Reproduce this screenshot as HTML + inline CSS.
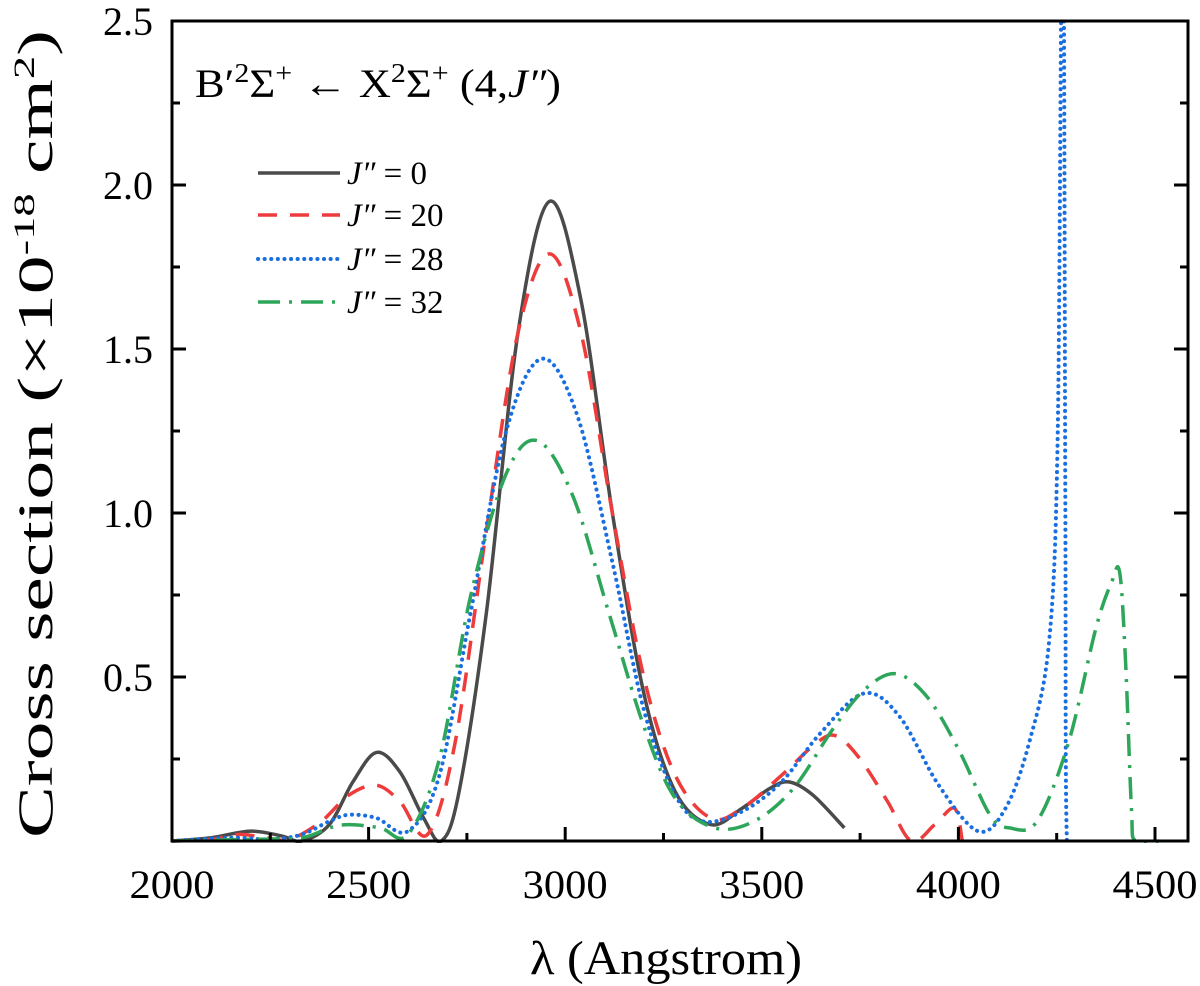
<!DOCTYPE html>
<html><head><meta charset="utf-8"><style>
body{margin:0;background:#fff;}
svg text{font-family:"Liberation Serif",serif;fill:#000;}
</style></head><body>
<svg id="chart" width="1200" height="986" viewBox="0 0 1200 986" xmlns="http://www.w3.org/2000/svg" style="position:absolute;left:0;top:0">
<g id="plot"></g>
</svg>
<script>
const xTicks=[2000,2500,3000,3500,4000,4500];
const yTicks=[0.5,1.0,1.5,2.0,2.5];
const xJ0=[2000,2100,2200,2280,2330,2400,2460,2520,2580,2640,2685,2730,2800,2880,2960,3040,3120,3200,3280,3370,3450,3520,3570,3630,3710];
const yJ0=[0,0.01,0.03,0.015,0,0.05,0.18,0.27,0.21,0.07,0,0.15,0.7,1.55,1.95,1.65,1.0,0.45,0.15,0.05,0.1,0.16,0.18,0.14,0.04];
const xJ20=[2000,2100,2170,2240,2300,2380,2450,2520,2580,2650,2720,2800,2880,2960,3040,3120,3200,3280,3370,3450,3550,3640,3690,3750,3820,3880,3940,3990,4010];
const yJ20=[0,0.005,0.02,0.01,0.005,0.06,0.14,0.17,0.12,0.02,0.3,0.95,1.55,1.79,1.55,1.0,0.5,0.2,0.07,0.1,0.2,0.3,0.32,0.25,0.12,0,0.05,0.1,0];
const xJ28=[2000,2150,2250,2330,2400,2450,2520,2600,2680,2760,2850,2940,3030,3120,3200,3280,3350,3450,3550,3650,3760,3850,3950,4050,4120,4180,4230,4252,4262,4268,4272,4276,4300];
const yJ28=[0,0.01,0.005,0.02,0.06,0.08,0.07,0.03,0.2,0.7,1.25,1.47,1.3,0.85,0.4,0.14,0.06,0.09,0.18,0.33,0.45,0.38,0.17,0.03,0.1,0.3,0.6,1.2,2.6,2.6,1.0,0,0];
const xJ32=[2000,2200,2330,2400,2450,2530,2600,2680,2760,2850,2930,3020,3110,3200,3280,3380,3480,3580,3680,3760,3840,3920,4000,4080,4130,4200,4280,4350,4390,4410,4425,4440,4450,4510];
const yJ32=[0,0.005,0.01,0.04,0.05,0.04,0.02,0.25,0.75,1.12,1.22,1.05,0.7,0.35,0.13,0.04,0.06,0.16,0.34,0.46,0.51,0.44,0.28,0.08,0.04,0.06,0.3,0.65,0.79,0.82,0.55,0.1,0,0];
const labels=["0","20","28","32"];
const NS="http://www.w3.org/2000/svg";
const L=172,R=1188,T=21,B=841;
const sx=v=>L+(v-2000)*(1155-L)/2500;
const sy=v=>B-v*(B-T)/2.5;
const g=document.getElementById('plot');
function mk(tag,at){const e=document.createElementNS(NS,tag);for(const k in at)e.setAttribute(k,at[k]);return e;}
const clip=mk('clipPath',{id:'cp'});clip.appendChild(mk('rect',{x:L,y:T,width:R-L,height:B-T+2}));g.appendChild(clip);
function path(xs,ys){const p=xs.map((x,i)=>[sx(x),sy(ys[i])]);let d=`M${p[0][0]},${p[0][1]}`;
for(let i=0;i<p.length-1;i++){const p0=p[Math.max(0,i-1)],p1=p[i],p2=p[i+1],p3=p[Math.min(p.length-1,i+2)];const t=6;
d+=` C${p1[0]+(p2[0]-p0[0])/t},${p1[1]+(p2[1]-p0[1])/t} ${p2[0]-(p3[0]-p1[0])/t},${p2[1]-(p3[1]-p1[1])/t} ${p2[0]},${p2[1]}`;}return d;}
const series=[[xJ0,yJ0,'#4a4a4a','','j0'],[xJ20,yJ20,'#ee3b3b','19,13','j20'],[xJ28,yJ28,'#1a6fe0','0.1,6.5','j28'],[xJ32,yJ32,'#2ea65a','22,9,3,9','j32']];
const sg=mk('g',{'clip-path':'url(#cp)'});g.appendChild(sg);
series.forEach(s=>{const e=mk('path',{d:path(s[0],s[1]),fill:'none',stroke:s[2],'stroke-width':s[4]=='j28'?4:3.5,'stroke-dasharray':s[3],'stroke-linecap':s[4]=='j28'?'round':'butt'});


sg.appendChild(e);});
const fr=mk('rect',{x:L,y:T,width:R-L,height:B-T,fill:'none',stroke:'#000','stroke-width':3});


g.appendChild(fr);
for(let v=2000;v<=4500;v+=250){const x=sx(v),len=v%500==0?14:8;
g.appendChild(mk('line',{x1:x,y1:B,x2:x,y2:B-len,stroke:'#000','stroke-width':3}));}
xTicks.forEach(v=>{const t=mk('text',{x:sx(v),y:B+57,'text-anchor':'middle','font-size':40,textLength:85,lengthAdjust:'spacingAndGlyphs'});t.textContent=v;


g.appendChild(t);});
for(let v=0.25;v<=2.5;v+=0.25){const y=sy(v),len=(Math.round(v*100)%50==0)?14:8;
g.appendChild(mk('line',{x1:L,y1:y,x2:L+len,y2:y,stroke:'#000','stroke-width':3}));
g.appendChild(mk('line',{x1:R,y1:y,x2:R-len,y2:y,stroke:'#000','stroke-width':3}));}
yTicks.forEach(v=>{const t=mk('text',{x:L-19,y:sy(v)+14,'text-anchor':'end','font-size':40});t.textContent=v.toFixed(1);


g.appendChild(t);});
const legY=[173,215,259,302];
series.forEach((s,i)=>{const y=legY[i];
const ln=mk('line',{x1:258,y1:y,x2:340,y2:y,stroke:s[2],'stroke-width':s[4]=='j28'?4:3.5,'stroke-dasharray':s[3],'stroke-linecap':s[4]=='j28'?'round':'butt'});


g.appendChild(ln);
const t=mk('text',{x:347,y:y+11,'font-size':33});
t.innerHTML='<tspan font-style="italic">J″</tspan> = '+labels[i];


g.appendChild(t);});
</script>
<svg style="position:absolute;left:0;top:0" width="1200" height="986" xmlns="http://www.w3.org/2000/svg">
<text x="195" y="97" font-size="40" textLength="366" lengthAdjust="spacingAndGlyphs" style="font-family:'Liberation Serif',serif">B′<tspan dy="-15" font-size="27">2</tspan><tspan dy="15">Σ</tspan><tspan dy="-15" font-size="27">+</tspan><tspan dy="15"> ← X</tspan><tspan dy="-15" font-size="27">2</tspan><tspan dy="15">Σ</tspan><tspan dy="-15" font-size="27">+</tspan><tspan dy="15"> (4,</tspan><tspan font-style="italic">J″</tspan>)</text>
<text x="530" y="974" font-size="48" textLength="272" lengthAdjust="spacingAndGlyphs" style="font-family:'Liberation Serif',serif">λ (Angstrom)</text>
<text transform="translate(52,838) rotate(-90)" font-size="50" textLength="808" lengthAdjust="spacingAndGlyphs" style="font-family:'Liberation Serif',serif">Cross section (×10<tspan dy="-18" font-size="30">-18</tspan><tspan dy="18"> cm</tspan><tspan dy="-18" font-size="30">2</tspan><tspan dy="18">)</tspan></text>
</svg>
</body></html>
